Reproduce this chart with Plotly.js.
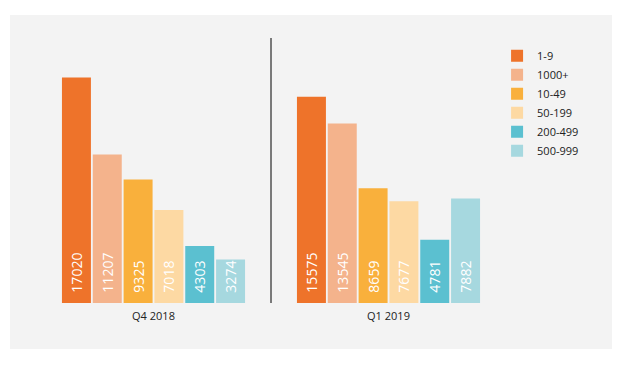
<!DOCTYPE html>
<html>
<head>
<meta charset="utf-8">
<script src="https://cdn.plot.ly/plotly-3.0.1.min.js"></script>
<style>
html,body{margin:0;padding:0;background:#ffffff;}
#chart{position:absolute;left:10px;top:15px;width:602px;height:334px;}
</style>
</head>
<body>
<div id="chart"></div>
<script>
const categories = ["Q4 2018", "Q1 2019"];
const seriesNames = ["1-9", "1000+", "10-49", "50-199", "200-499", "500-999"];
const s_1_9 = [17020, 15575];
const s_1000p = [11207, 13545];
const s_10_49 = [9325, 8659];
const s_50_199 = [7018, 7677];
const s_200_499 = [4303, 4781];
const s_500_999 = [3274, 7882];
const seriesValues = [s_1_9, s_1000p, s_10_49, s_50_199, s_200_499, s_500_999];
const colors = ["#ee732a", "#f4b38c", "#f9b03c", "#fdd9a3", "#5bc0d0", "#a6d8df"];

const traces = seriesNames.map((name, i) => ({
  type: "bar",
  name: name,
  x: categories,
  y: seriesValues[i],
  marker: {color: colors[i]},
  text: seriesValues[i].map(v => "<span style=\"opacity:0\">..</span>" + String(v)),
  textposition: "inside",
  insidetextanchor: "start",
  textangle: -90,
  constraintext: "none",
  insidetextfont: {color: "#ffffff", size: 14, family: "Open Sans, sans-serif"},
  hoverinfo: "none"
}));

const layout = {
  width: 602,
  height: 334,
  paper_bgcolor: "#f3f3f3",
  plot_bgcolor: "#f3f3f3",
  margin: {l: 26, r: 106, t: 23, b: 46},
  barmode: "group",
  bargap: 0.213,
  bargroupgap: 0.06,
  font: {family: "Open Sans, sans-serif", color: "#222222", size: 11},
  showlegend: true,
  legend: {
    x: 0.981, xanchor: "left", y: 0.9875, yanchor: "top",
    bgcolor: "rgba(0,0,0,0)",
    font: {size: 11, color: "#222222"},
    traceorder: "normal",
    itemclick: false, itemdoubleclick: false
  },
  xaxis: {
    type: "category",
    range: [-0.5, 1.5],
    showgrid: false, showline: false, zeroline: false,
    ticks: "",
    ticklabelstandoff: 5,
    tickfont: {size: 11, color: "#222222"}
  },
  yaxis: {
    range: [0, 20000],
    visible: false,
    showgrid: false, zeroline: false
  },
  shapes: [{
    type: "line", xref: "x", yref: "paper",
    x0: 0.5, x1: 0.5, y0: 0, y1: 1,
    line: {color: "#000000", width: 1}
  }],
  hovermode: false
};

Plotly.newPlot("chart", traces, layout, {staticPlot: true, displayModeBar: false});
</script>
</body>
</html>
